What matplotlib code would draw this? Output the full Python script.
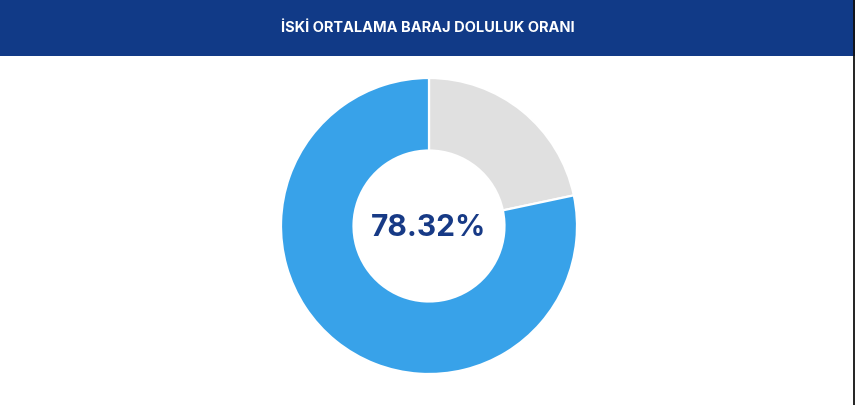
import matplotlib
matplotlib.use("Agg")
import matplotlib.pyplot as plt
from matplotlib.patches import Rectangle
from matplotlib.lines import Line2D

title = "İSKİ ORTALAMA BARAJ DOLULUK ORANI"
labels = ["Boş", "Dolu"]
values = [21.68, 78.32]
colors = ["#e0e0e0", "#38a2e9"]
center_label = "78.32%"

W, H, DPI = 855, 406, 100
fig = plt.figure(figsize=(W / DPI, H / DPI), dpi=DPI, facecolor="white")

# header band
header_h = 57
fig.patches.append(Rectangle((0, 1 - header_h / H), 1, header_h / H,
                             transform=fig.transFigure, facecolor="#113a87",
                             edgecolor="none", zorder=0))
fig.text(428 / W, 1 - 28 / H, title, color="white", fontsize=10.5,
         fontweight="bold", family=["Inter", "DejaVu Sans"],
         ha="center", va="center")

# right edge line
fig.lines.append(Line2D([854.2 / W, 854.2 / W], [0, 1], transform=fig.transFigure,
                        color="#111111", linewidth=1.3))

# donut
cx, cy, r = 429, 227, 148
ax = fig.add_axes([(cx - r) / W, (H - cy - r) / H, 2 * r / W, 2 * r / H])
ax.pie(values, colors=colors, startangle=90, counterclock=False, radius=1,
       wedgeprops=dict(width=0.49, edgecolor="white", linewidth=1.6))
ax.set_xlim(-1, 1)
ax.set_ylim(-1, 1)
ax.set_aspect("equal")
ax.axis("off")
ax.text(0, -0.01, center_label, ha="center", va="center", fontsize=21.5,
        fontweight="bold", color="#173a86", family=["Inter", "DejaVu Sans"])

fig.savefig("out.png", dpi=DPI, facecolor="white")
